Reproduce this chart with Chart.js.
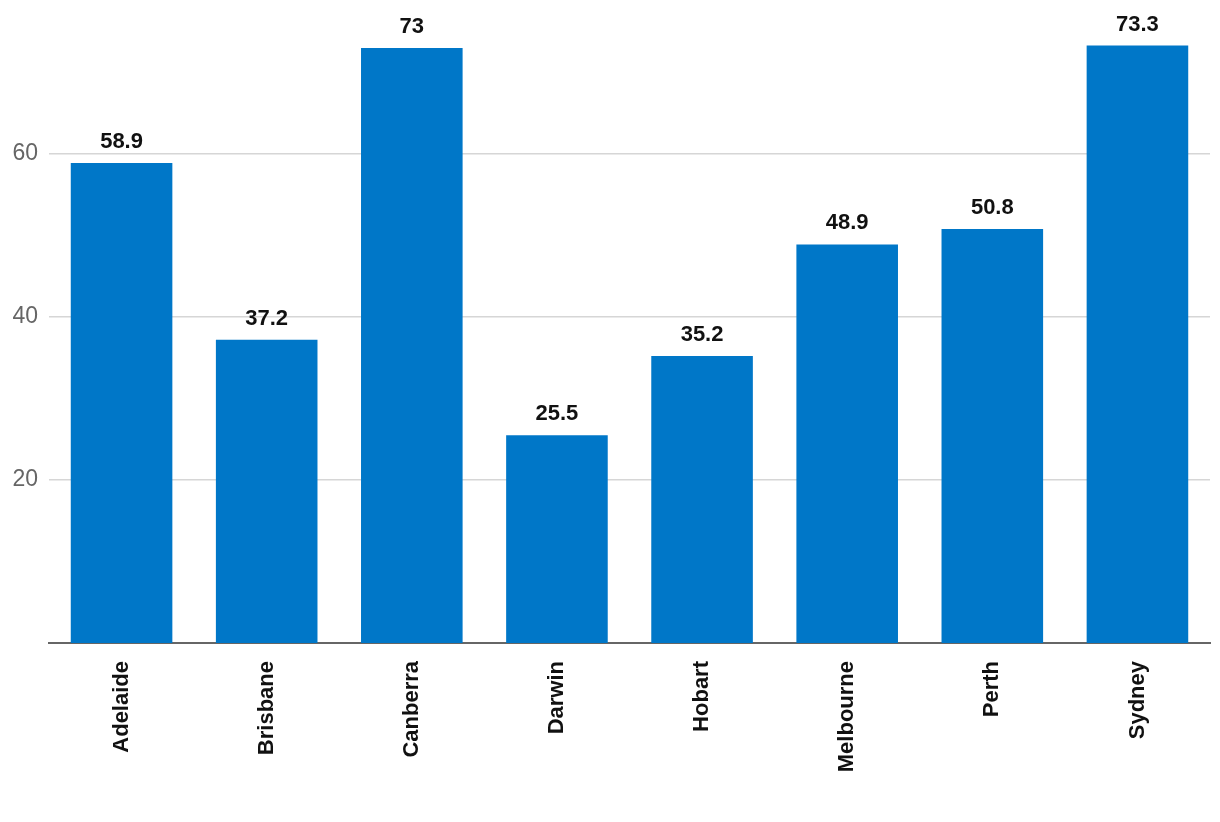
<!DOCTYPE html>
<html>
<head>
<meta charset="utf-8">
<script src="https://cdn.jsdelivr.net/npm/chart.js@4"></script>
<style>
  html, body { margin: 0; padding: 0; background: #fff; }
  #wrap { width: 1220px; height: 822px; position: relative; }
</style>
</head>
<body>
<div id="wrap"><canvas id="chart"></canvas></div>
<script>
const cities = ['Adelaide', 'Brisbane', 'Canberra', 'Darwin', 'Hobart', 'Melbourne', 'Perth', 'Sydney'];
const values = [58.9, 37.2, 73, 25.5, 35.2, 48.9, 50.8, 73.3];
const yTicks = [20, 40, 60];

const FONT = "'Liberation Sans', Arial, sans-serif";

// draws the value above each bar
const valueLabels = {
    id: 'valueLabels',
    afterDatasetsDraw(chart) {
        const ctx = chart.ctx;
        const meta = chart.getDatasetMeta(0);
        ctx.save();
        ctx.font = 'bold 22px ' + FONT;
        ctx.fillStyle = '#111';
        ctx.textAlign = 'center';
        ctx.textBaseline = 'alphabetic';
        meta.data.forEach((bar, i) => {
            ctx.fillText(String(values[i]), bar.x, bar.y - 15);
        });
        ctx.restore();
    }
};

new Chart(document.getElementById('chart'), {
    type: 'bar',
    data: {
        labels: cities,
        datasets: [{
            data: values,
            backgroundColor: '#0077c8',
            barPercentage: 0.7,
            categoryPercentage: 1
        }]
    },
    options: {
        responsive: true,
        maintainAspectRatio: false,
        animation: false,
        layout: { padding: { top: 0, right: 10, left: 0, bottom: 0 } },
        plugins: { legend: { display: false }, tooltip: { enabled: false } },
        scales: {
            x: {
                grid: { display: false },
                border: { display: true, color: '#666', width: 2 },
                ticks: {
                    color: '#111',
                    minRotation: 90,
                    maxRotation: 90,
                    padding: 10,
                    font: { family: FONT, size: 22, weight: 'bold' }
                },
                afterFit(scale) { scale.height = 179; }
            },
            y: {
                min: 0,
                max: 75.85,
                grid: { color: '#d6d6d6', lineWidth: 1.5, drawTicks: false },
                border: { display: false },
                ticks: {
                    color: '#666',
                    padding: 11,
                    font: { family: FONT, size: 23 }
                },
                afterBuildTicks(scale) {
                    scale.ticks = yTicks.map(v => ({ value: v }));
                },
                afterFit(scale) { scale.width = 49; }
            }
        }
    },
    plugins: [valueLabels]
});
</script>
</body>
</html>
